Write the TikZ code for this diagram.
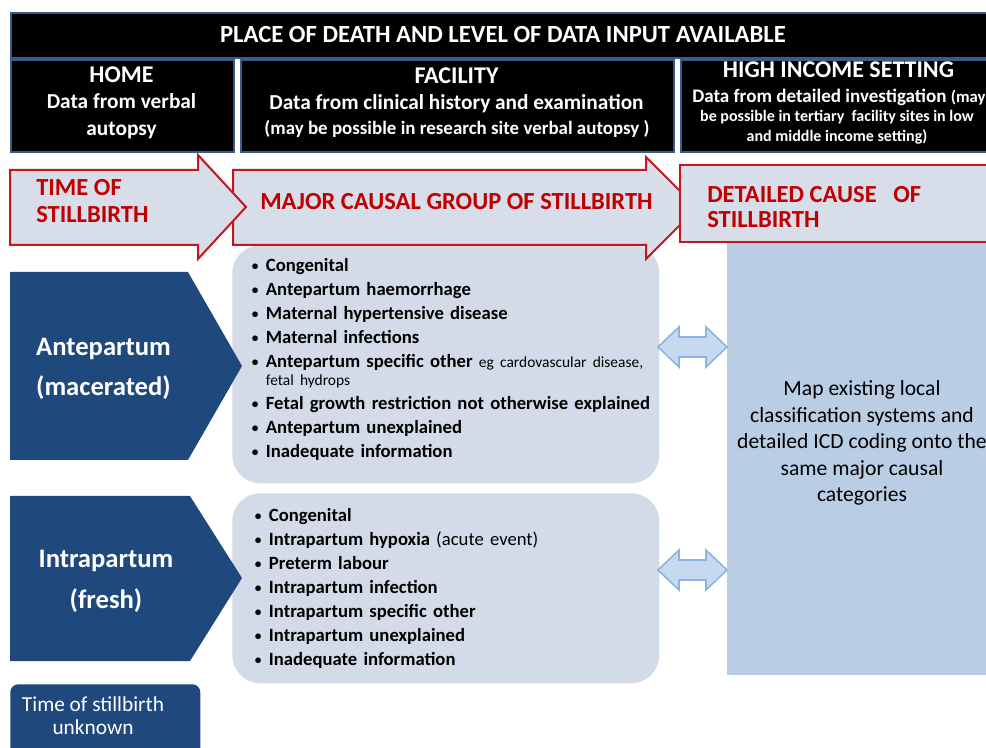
\documentclass[tikz,border=0pt]{standalone}
\usepackage{fontspec}
\setmainfont{Carlito}
\definecolor{hdrborder}{HTML}{385D8A}
\definecolor{arrfill}{HTML}{D7DDE9}
\definecolor{arrred}{HTML}{C3161F}
\definecolor{txtred}{HTML}{C00000}
\definecolor{dkblue}{HTML}{1F497D}
\definecolor{listfill}{HTML}{D4DBE8}
\definecolor{mapfill}{HTML}{B9CDE5}
\definecolor{dblfill}{HTML}{C6D9F1}
\definecolor{dbldraw}{HTML}{8DB3E2}
\newcommand{\fs}[2]{\fontsize{#1}{#2}\selectfont}
\newcommand{\bitem}[1]{\par\hangindent=11pt\hangafter=1\noindent\makebox[11pt][l]{\hspace{0.5pt}\raisebox{0.6pt}{\fs{10}{10}\textbullet}}#1}
\begin{document}
\begin{tikzpicture}[x=0.75pt,y=-0.75pt,
  hdrbox/.style={draw=hdrborder, line width=1.5pt, fill=black, inner sep=0pt, anchor=north west},
  wt/.style={text=white, inner sep=0pt, align=center},
  rt/.style={text=txtred, inner sep=0pt, align=left, anchor=west, font=\fs{18.4}{20.25}\bfseries},
  arrowshape/.style={fill=arrfill, draw=arrred, line width=1.5pt, line join=miter},
  listbox/.style={fill=listfill, rounded corners=21pt, inner sep=0pt, anchor=north west},
  lt/.style={inner sep=0pt, anchor=north west, text width=330pt, align=left, font=\fs{14}{18}\bfseries},
  dblarrow/.style={fill=dblfill, draw=dbldraw, line width=1.2pt, line join=miter}]
\useasboundingbox (0,0) rectangle (986,748);
\clip (0,0) rectangle (986,748);

% header
\node[hdrbox, minimum width=738.75pt, minimum height=33.75pt] (title) at (10,12) {};
\node[wt, font=\fs{18.5}{20}\bfseries] (titleT) at (503,35) {PLACE OF DEATH AND LEVEL OF DATA INPUT AVAILABLE};

\node[hdrbox, minimum width=167.25pt, minimum height=69pt] (home) at (10,59) {};
\node[hdrbox, minimum width=324.75pt, minimum height=69pt] (fac) at (240,59) {};
\node[hdrbox, minimum width=240pt, minimum height=69pt] (high) at (680,59) {};

\node[wt, font=\fs{18}{20}\bfseries] (homeH) at (121.5,75) {HOME};
\node[wt, font=\fs{16}{20.25}\bfseries] (homeD) at (121.5,116) {Data from verbal\\autopsy};
\node[wt, font=\fs{18}{20}\bfseries] (facH) at (456.5,76) {FACILITY};
\node[wt, font=\fs{16}{20}\bfseries] (facD) at (456.5,104) {Data from clinical history and examination};
\node[wt, font=\fs{14.2}{16}\bfseries] (facN) at (457,129) {(may be possible in research site verbal autopsy )};
\node[wt, font=\fs{18}{20}\bfseries] (hiH) at (838.5,70) {HIGH INCOME SETTING};
\node[wt, font=\fs{14.3}{16}\bfseries, anchor=west] (hiD) at (692,97) {Data from detailed investigation {\fs{12.5}{14}(may}};
\node[wt, font=\fs{12}{15}\bfseries] (hiN) at (837,127) {be possible in tertiary\ \ facility sites in low\\and middle income setting)};

% right mapping box
\node[fill=mapfill, minimum width=204.75pt, minimum height=329.25pt, anchor=north west, inner sep=0pt] (map) at (727,236) {};
\node[font=\fs{16.2}{19.9}, align=center, inner sep=0pt] (mapT) at (862,443) {Map existing local\\classification systems and\\detailed ICD coding onto the\\same major causal\\categories};

% list boxes
\node[listbox, minimum width=320.25pt, minimum height=178.5pt] (list1) at (232,245) {};
\node[listbox, minimum width=320.25pt, minimum height=142.5pt] (list2) at (232,493) {};

% big arrows
\path[arrowshape] (233,170) -- (646,170) -- (646,157) -- (697,208) -- (646,259) -- (646,245) -- (233,245) -- cycle;
\path[arrowshape] (10,170) -- (198,170) -- (198,155) -- (246,207) -- (198,259) -- (198,245) -- (10,245) -- cycle;
\path[arrowshape] (680,165) rectangle (1000,242);

\node[rt] (timeT) at (36,201) {TIME OF\\STILLBIRTH};
\node[rt] (majT) at (260,202) {MAJOR CAUSAL GROUP OF STILLBIRTH};
\node[rt, font=\fs{18.4}{18.75}\bfseries] (detT) at (707,207) {DETAILED CAUSE\ \ \ OF\\STILLBIRTH};

% pentagons
\fill[dkblue] (10,272) -- (188,272) -- (242,366) -- (188,460) -- (10,460) -- cycle;
\node[wt, font=\fs{20}{30}\bfseries] (anteT) at (103.5,369) {Antepartum\\(macerated)};
\fill[dkblue] (10,496) -- (190,496) -- (242,578) -- (190,661) -- (10,661) -- cycle;
\node[wt, font=\fs{20}{30.75}\bfseries] (intraT) at (106,581) {Intrapartum\\(fresh)};

% unknown
\node[fill=dkblue, rounded corners=6pt, minimum width=142.5pt, minimum height=60pt, anchor=north west, inner sep=0pt] (unk) at (10,684) {};
\node[wt, font=\fs{16}{17.25}] (unkT) at (93,716) {Time of stillbirth\\unknown};

% list texts
\node[lt] (items1) at (251,247) {\raggedright
\bitem{Congenital}
\bitem{Antepartum haemorrhage}
\bitem{Maternal hypertensive disease}
\bitem{Maternal infections}\par\vspace{4.5pt}
\bitem{Antepartum specific other \mdseries\fs{11.6}{13.5}eg cardovascular disease,\newline fetal hydrops\par}\fs{14}{18}\bfseries
\bitem{Fetal growth restriction not otherwise explained}
\bitem{Antepartum unexplained}
\bitem{Inadequate information}};

\node[lt] (items2) at (254,497) {\raggedright
\bitem{Congenital}
\bitem{Intrapartum hypoxia {\mdseries (acute event)}}
\bitem{Preterm labour}
\bitem{Intrapartum infection}
\bitem{Intrapartum specific other}
\bitem{Intrapartum unexplained}
\bitem{Inadequate information}};

% double arrows
\coordinate (da1) at (692.5,347);
\coordinate (da2) at (692.5,570);
\foreach \c in {da1,da2}{
  \path[dblarrow] (\c) ++(-34.5,0) -- ++(21,-20) -- ++(0,10) -- ++(27,0) -- ++(0,-10) -- ++(21,20) -- ++(-21,20) -- ++(0,-10) -- ++(-27,0) -- ++(0,10) -- cycle;
}
\end{tikzpicture}
\end{document}
